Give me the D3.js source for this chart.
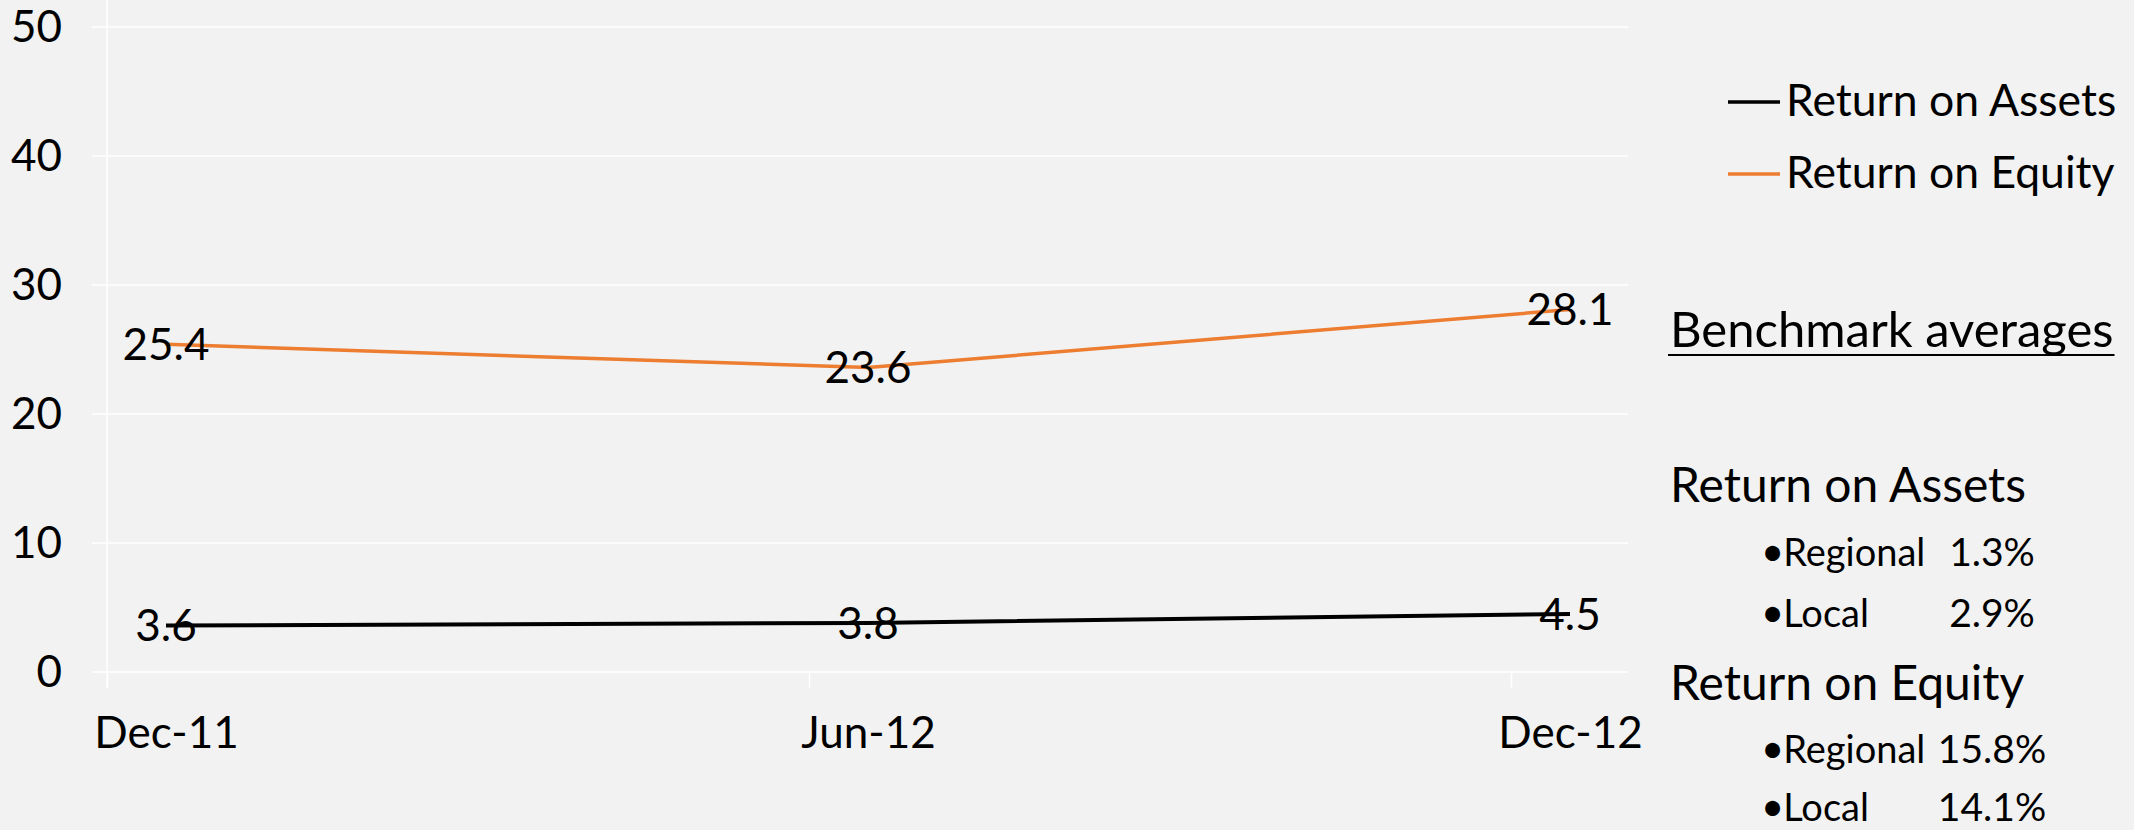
<!DOCTYPE html>
<html>
<head>
<meta charset="utf-8">
<script src="https://cdn.jsdelivr.net/npm/d3@7"></script>
<style>
  html, body { margin: 0; padding: 0; background: #f2f2f2; }
  svg { display: block; font-family: Lato, "Noto Sans", sans-serif; }
</style>
</head>
<body>
<svg id="chart" width="2134" height="830"></svg>
<script>
// chart data
var categories = ['Dec-11', 'Jun-12', 'Dec-12'];
var returnOnAssets = [3.6, 3.8, 4.5];
var returnOnEquity = [25.4, 23.6, 28.1];
var yTicks = [0, 10, 20, 30, 40, 50];
var seriesNames = ['Return on Assets', 'Return on Equity'];
var seriesColors = ['#000000', '#ed7d31'];

// benchmark panel text
var benchmarkTitle = 'Benchmark averages';
var benchmarkGroups = ['Return on Assets', 'Return on Equity'];
var benchmarkLabels = ['Regional', 'Local'];
var regionalAverages = ['1.3%', '15.8%'];
var localAverages = ['2.9%', '14.1%'];

var svg = d3.select('#chart');
var fontSize = 44;

var x = d3.scalePoint().domain(categories).range([166, 1570]);
var xTick = x.copy().range([107, 1511]);
var y = d3.scaleLinear().domain([0, 50]).range([672, 27]);

// horizontal gridlines
svg.append('g')
  .selectAll('line')
  .data(yTicks)
  .enter().append('line')
  .attr('x1', 92).attr('x2', 1628)
  .attr('y1', function(d) { return y(d); })
  .attr('y2', function(d) { return y(d); })
  .attr('stroke', '#ffffff')
  .attr('stroke-width', 1.5);

// value axis line
svg.append('line')
  .attr('x1', 107).attr('x2', 107)
  .attr('y1', 0).attr('y2', 688)
  .attr('stroke', '#ffffff')
  .attr('stroke-width', 1.5);

// category tick marks
var tickAxis = svg.append('g')
  .attr('transform', 'translate(0,' + y(0) + ')')
  .call(d3.axisBottom(xTick).tickSize(16).tickFormat(''));
tickAxis.select('.domain').remove();
tickAxis.selectAll('line').attr('stroke', '#ffffff').attr('stroke-width', 1.5);

// y axis labels
var yAxis = svg.append('g')
  .attr('transform', 'translate(107,0)')
  .call(d3.axisLeft(y).tickValues(yTicks).tickSize(0).tickPadding(45));
yAxis.attr('font-family', null).attr('font-size', fontSize);
yAxis.select('.domain').remove();
yAxis.selectAll('text').attr('fill', '#000');

// x axis labels
var xAxis = svg.append('g')
  .attr('transform', 'translate(0,' + y(0) + ')')
  .call(d3.axisBottom(x).tickSize(0));
xAxis.attr('font-family', null).attr('font-size', fontSize);
xAxis.select('.domain').remove();
xAxis.selectAll('text')
  .attr('y', 76)
  .attr('dy', 0)
  .attr('fill', '#000');

// lines + labels
var series = [returnOnAssets, returnOnEquity];
var line = d3.line()
  .x(function(d, i) { return x(categories[i]); })
  .y(function(d) { return y(d); });

series.forEach(function(values, s) {
  svg.append('path')
    .datum(values)
    .attr('d', line)
    .attr('fill', 'none')
    .attr('stroke', seriesColors[s])
    .attr('stroke-width', s === 0 ? 4 : 3.5)
    .attr('stroke-linejoin', 'round');

  svg.append('g')
    .selectAll('text')
    .data(values)
    .enter().append('text')
    .attr('x', function(d, i) { return x(categories[i]); })
    .attr('y', function(d) { return y(d); })
    .attr('dy', '0.36em')
    .attr('text-anchor', 'middle')
    .attr('font-size', fontSize)
    .text(function(d) { return d.toFixed(1); });
});

// legend
var legend = svg.append('g');
seriesNames.forEach(function(name, i) {
  var base = 116 + i * 72;
  legend.append('line')
    .attr('x1', 1728).attr('x2', 1780)
    .attr('y1', base - 14).attr('y2', base - 14)
    .attr('stroke', seriesColors[i])
    .attr('stroke-width', 3.5);
  legend.append('text')
    .attr('x', 1786).attr('y', base)
    .attr('font-size', 44.5)
    .text(name);
});

// benchmark panel
var panel = svg.append('g');
var title = panel.append('text')
  .attr('x', 1670).attr('y', 347)
  .attr('font-size', 49)
  .text(benchmarkTitle);
var tw = title.node().getComputedTextLength();
panel.append('line')
  .attr('x1', 1668).attr('x2', 1670 + tw + 1)
  .attr('y1', 355).attr('y2', 355)
  .attr('stroke', '#000')
  .attr('stroke-width', 2.2);

var groupBase = [502, 700];
var itemBase = [[566, 627], [763, 821]];
var averages = [regionalAverages, localAverages];
benchmarkGroups.forEach(function(g, gi) {
  panel.append('text')
    .attr('x', 1670).attr('y', groupBase[gi])
    .attr('font-size', 48)
    .text(g);
  benchmarkLabels.forEach(function(lab, li) {
    var item = panel.append('text')
      .attr('x', 1761).attr('y', itemBase[gi][li])
      .attr('font-size', 38);
    item.append('tspan').attr('font-size', 40).text('\u2022');
    item.append('tspan').attr('dx', -1).text(lab);
    panel.append('text')
      .attr('x', 1992).attr('y', itemBase[gi][li])
      .attr('text-anchor', 'middle')
      .attr('font-size', 39)
      .text(averages[li][gi]);
  });
});
</script>
</body>
</html>
